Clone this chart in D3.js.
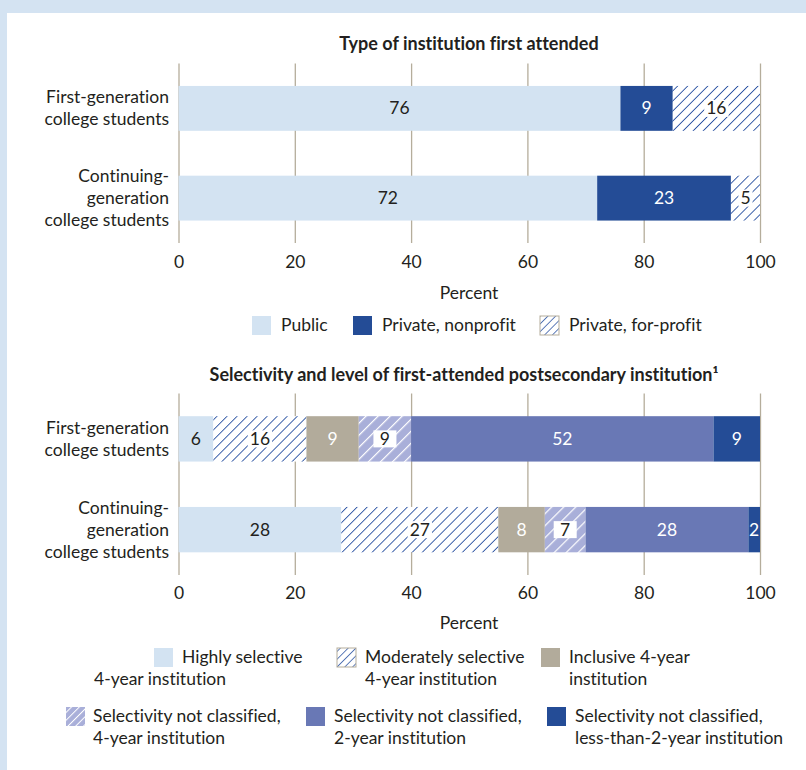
<!DOCTYPE html>
<html><head><meta charset="utf-8">
<script src="https://cdn.jsdelivr.net/npm/d3@7"></script>
<style>
body{margin:0;background:#d4e3f2;}
svg{display:block}
text{font-family:Lato,"Noto Sans",sans-serif;font-variant-ligatures:none;font-feature-settings:"liga" 0,"clig" 0,"dlig" 0;}
</style></head><body>
<svg id="c" width="806" height="770"></svg>
<script>
// ---------- DATA ----------
const categories = ["First-generation college students", "Continuing-generation college students"];
const categoryLines = [["First-generation", "college students"], ["Continuing-", "generation", "college students"]];
const tickValues = [0, 20, 40, 60, 80, 100];
const axisLabel = "Percent";

const typeTitle = "Type of institution first attended";
const typeSeries = ["Public", "Private, nonprofit", "Private, for-profit"];
const typeFirstGen = [76, 9, 16];
const typeContinuing = [72, 23, 5];

const selTitle = "Selectivity and level of first-attended postsecondary institution\u00B9";
const selSeries = ["Highly selective 4-year institution", "Moderately selective 4-year institution", "Inclusive 4-year institution",
  "Selectivity not classified, 4-year institution", "Selectivity not classified, 2-year institution",
  "Selectivity not classified, less-than-2-year institution"];
const selLegendLines = [["Highly selective", "4-year institution"], ["Moderately selective", "4-year institution"], ["Inclusive 4-year", "institution"],
  ["Selectivity not classified,", "4-year institution"], ["Selectivity not classified,", "2-year institution"],
  ["Selectivity not classified,", "less-than-2-year institution"]];
const selFirstGen = [6, 16, 9, 9, 52, 9];
const selContinuing = [28, 27, 8, 7, 28, 2];

// ---------- STYLES ----------
const LIGHT = "#d3e3f2", DARK = "#244c96", TAUPE = "#b2ab9b", PURPLE = "#6978b5", INK = "#231f20";
const FS = 17.5;
const svg = d3.select("#c");
const defs = svg.append("defs");
function hatch(id, bg, line, w, sw) {
  const p = defs.append("pattern").attr("id", id).attr("patternUnits", "userSpaceOnUse")
    .attr("width", w).attr("height", w).attr("patternTransform", "rotate(45)");
  p.append("rect").attr("width", w).attr("height", w).attr("fill", bg);
  p.append("line").attr("x1", 0).attr("y1", -1).attr("x2", 0).attr("y2", w + 1)
    .attr("stroke", line).attr("stroke-width", sw);
}
hatch("hBlue", "#fff", "#2a52a2", 7.1, 1.8);
hatch("hPurple", "#a9afd9", "#fff", 8.5, 2.4);
hatch("hBlueL", "#fff", "#2a52a2", 5.5, 1.5);
hatch("hPurpleL", "#a9afd9", "#fff", 5.5, 2);

// frame
svg.append("rect").attr("x", 7).attr("y", 13).attr("width", 806).attr("height", 770).attr("fill", "#fff");

const x = d3.scaleLinear().domain([0, 100]).range([178.5, 760]).clamp(true);

function drawChart(o) {
  const g = svg.append("g");
  const table = categories.map((c, i) => {
    const row = {category: c};
    o.series.forEach((s, j) => row[s] = o.values[i][j]);
    return row;
  });
  const y = d3.scaleBand().domain(categories).range(o.yRange).paddingInner(0.5).paddingOuter(0.25);

  g.append("text").attr("x", o.titleX).attr("y", o.titleY).attr("text-anchor", "middle")
    .attr("font-weight", "bold").attr("font-size", 18).style("fill", INK).text(o.title);

  // grid / axis
  const ax = g.append("g").attr("transform", `translate(0,${o.yRange[1]})`)
    .call(d3.axisBottom(x).tickValues(tickValues).tickSize(-(o.yRange[1] - o.yRange[0])).tickPadding(o.tickPad));
  ax.select(".domain").remove();
  ax.selectAll(".tick line").attr("stroke", "#b5ad9b").attr("stroke-width", 1.3);
  ax.selectAll(".tick text").attr("font-size", FS).style("fill", INK).attr("font-family", "Lato");

  g.append("text").attr("x", 469).attr("y", o.percentY).attr("text-anchor", "middle")
    .attr("font-size", FS).style("fill", INK).text(axisLabel);

  // category labels
  categories.forEach((c, i) => {
    const lines = categoryLines[i];
    const cy = y(c) + y.bandwidth() / 2;
    const t = g.append("text").attr("text-anchor", "end").attr("font-size", FS).style("fill", INK);
    lines.forEach((l, k) => t.append("tspan").attr("x", 169)
      .attr("y", cy + (k - (lines.length - 1) / 2) * 22 + 6).text(l));
  });

  const stack = d3.stack().keys(o.series)(table);
  stack.forEach((layer, j) => {
    const st = o.styles[j];
    const lg = g.append("g");
    lg.selectAll("rect").data(layer).join("rect")
      .attr("x", d => x(d[0])).attr("width", d => x(d[1]) - x(d[0]))
      .attr("y", d => y(d.data.category)).attr("height", y.bandwidth())
      .attr("fill", st.fill);
    layer.forEach(d => {
      const cx = (x(d[0]) + x(d[1])) / 2, cy = y(d.data.category) + y.bandwidth() / 2;
      const v = d.data[o.series[j]];
      const t = lg.append("text").attr("x", cx).attr("y", cy + 6).attr("text-anchor", "middle")
        .attr("font-size", FS).style("fill", st.text).text(v);
      if (st.box) {
        const w = t.node().getComputedTextLength();
        const bw = Math.max(w + st.box, st.minBox || 0);
        lg.insert("rect", () => t.node()).attr("x", cx - bw / 2).attr("y", cy - 8.5)
          .attr("width", bw).attr("height", 17).attr("fill", "#fff");
      }
    });
  });
}

drawChart({
  title: typeTitle, titleX: 469, titleY: 50, series: typeSeries, values: [typeFirstGen, typeContinuing],
  yRange: [63.5, 243], tickPad: 13, percentY: 299,
  styles: [{fill: LIGHT, text: INK}, {fill: DARK, text: "#fff"}, {fill: "url(#hBlue)", text: INK, box: 4}]
});
drawChart({
  title: selTitle, titleX: 464, titleY: 381, series: selSeries, values: [selFirstGen, selContinuing],
  yRange: [393.5, 575], tickPad: 12, percentY: 629,
  styles: [{fill: LIGHT, text: INK}, {fill: "url(#hBlue)", text: INK, box: 4},
    {fill: TAUPE, text: "#fff"}, {fill: "url(#hPurple)", text: INK, box: 6, minBox: 23},
    {fill: PURPLE, text: "#fff"}, {fill: DARK, text: "#fff"}]
});

// legends
function swatch(xp, yp, fill, border) {
  svg.append("rect").attr("x", xp).attr("y", yp).attr("width", 19).attr("height", 19).attr("fill", fill)
    .attr("stroke", border ? "#b5ad9b" : "none").attr("stroke-width", border ? 1 : 0);
}
const typeLegendFills = [[LIGHT, false], [DARK, false], ["url(#hBlueL)", true]];
const typeLegendX = [252, 353, 540];
typeSeries.forEach((s, i) => {
  swatch(typeLegendX[i], 316, typeLegendFills[i][0], typeLegendFills[i][1]);
  svg.append("text").attr("x", typeLegendX[i] + 29).attr("y", 331).attr("font-size", FS).style("fill", INK).text(s);
});

const selLegendFills = [[LIGHT, false], ["url(#hBlueL)", true], [TAUPE, false], ["url(#hPurpleL)", false], [PURPLE, false], [DARK, false]];
const selLegendPos = [[154, 648, 182, 94], [337, 648, 365, 365], [541, 648, 569, 569],
  [66, 707, 93, 93], [306, 707, 334, 334], [547, 707, 575, 575]];
selSeries.forEach((s, i) => {
  const p = selLegendPos[i];
  swatch(p[0], p[1], selLegendFills[i][0], selLegendFills[i][1]);
  const t = svg.append("text").attr("font-size", FS).style("fill", INK);
  t.append("tspan").attr("x", p[2]).attr("y", p[1] + 15).text(selLegendLines[i][0]);
  t.append("tspan").attr("x", p[3]).attr("y", p[1] + 37).text(selLegendLines[i][1]);
});
</script>
</body></html>
